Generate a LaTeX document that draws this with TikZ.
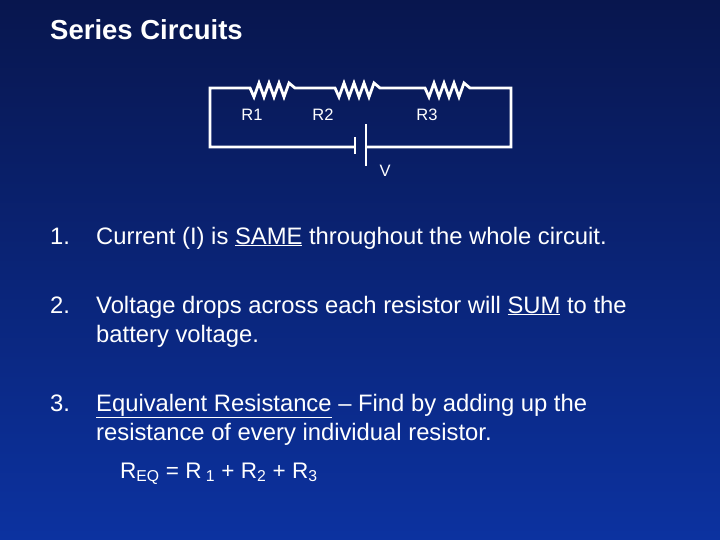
\documentclass[tikz,border=0pt]{standalone}
\usepackage{fontspec}
\setmainfont{Liberation Sans}
\begin{document}
\begin{tikzpicture}[x=1pt,y=-1pt,
  wire/.style={draw=white,line width=2.8pt},
  lbl/.style={text=white,font=\fontsize{16.5}{18}\selectfont,inner sep=0pt},
  body/.style={text=white,font=\fontsize{23.8}{29}\selectfont,inner sep=0pt,anchor=base west}]
\shade[top color={rgb,255:red,8;green,22;blue,78},bottom color={rgb,255:red,12;green,50;blue,160}] (0,0) rectangle (720,540);
\useasboundingbox (0,0) rectangle (720,540);
\node[body,font=\bfseries\fontsize{27.5}{30}\selectfont] (title) at (50,40) {Series Circuits};
% circuit
\coordinate (tl) at (210,88); \coordinate (tr) at (511,88);
\coordinate (bl) at (210,147); \coordinate (br) at (511,147);
\coordinate (pa) at (355,147); \coordinate (pb) at (366,147);
\draw[wire,line join=miter] (pa) -- (bl) -- (tl) -- (250,88)
  -- ++(4,9) -- ++(5,-14) -- ++(5,14) -- ++(5,-14) -- ++(5,14) -- ++(5,-14) -- ++(5,14) -- ++(5,-14) -- (295,88)
  -- (335,88) -- ++(4,9) -- ++(5,-14) -- ++(5,14) -- ++(5,-14) -- ++(5,14) -- ++(5,-14) -- ++(5,14) -- ++(5,-14) -- (380,88)
  -- (425,88) -- ++(4,9) -- ++(5,-14) -- ++(5,14) -- ++(5,-14) -- ++(5,14) -- ++(5,-14) -- ++(5,14) -- ++(5,-14) -- (470,88)
  -- (tr) -- (br) -- (pb);
\draw[wire] (355,137) -- (355,154);
\draw[wire] (366,124) -- (366,166);
\node[lbl] (r1) at (252,115) {R1};
\node[lbl] (r2) at (323,115) {R2};
\node[lbl] (r3) at (427,115) {R3};
\node[lbl] (v) at (385,171) {V};
% text
\node[body] (n1) at (50,244) {1.};
\node[body] (t1) at (96,244) {Current (I) is \underline{SAME} throughout the whole circuit.};
\node[body] (n2) at (50,313) {2.};
\node[body] (t2) at (96,313) {Voltage drops across each resistor will \underline{SUM} to the};
\node[body] (t2b) at (96,342) {battery voltage.};
\node[body] (n3) at (50,411) {3.};
\node[body] (t3) at (96,411) {\underline{Equivalent Resistance} -- Find by adding up the};
\node[body] (t3b) at (96,440) {resistance of every individual resistor.};
\node[body,font=\fontsize{22.5}{26}\selectfont] (f) at (120,478) {R\textsubscript{EQ} = R\textsubscript{ 1} + R\textsubscript{2} + R\textsubscript{3}};
\end{tikzpicture}
\end{document}
